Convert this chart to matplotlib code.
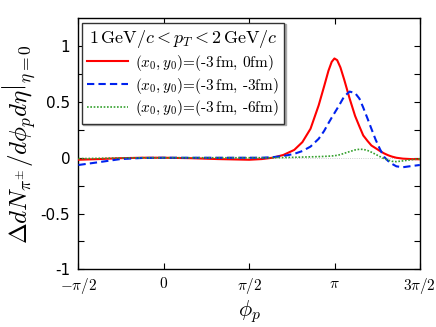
import numpy as np
import matplotlib
matplotlib.use("Agg")
import matplotlib.pyplot as plt

plt.rcParams['mathtext.fontset'] = 'cm'
plt.rcParams['axes.unicode_minus'] = False

PI = np.pi
# phi_p positions (radians)
phi = [-1.571, -1.2, -0.8, -0.4, 0.0, 0.5, 1.0, 1.571, 1.8, 2.0, 2.2, 2.4, 2.55,
       2.7, 2.85, 2.95, 3.03, 3.09, 3.14, 3.19, 3.25, 3.32, 3.42, 3.52, 3.6,
       3.67, 3.75, 3.82, 3.9, 3.98, 4.05, 4.13, 4.2, 4.28, 4.4, 4.55, 4.712]
red = [-0.018, -0.012, -0.004, 0.0, 0.0, -0.004, -0.012, -0.018, -0.012, 0.0,
       0.025, 0.07, 0.14, 0.26, 0.47, 0.64, 0.78, 0.86, 0.89, 0.875, 0.81, 0.70,
       0.53, 0.375, 0.28, 0.20, 0.15, 0.11, 0.085, 0.06, 0.04, 0.022, 0.01, 0.0,
       -0.008, -0.012, -0.014]
blue = [-0.065, -0.04, -0.012, -0.002, 0.0, 0.0, 0.0, 0.0, 0.0, 0.005, 0.015,
        0.035, 0.06, 0.10, 0.17, 0.24, 0.31, 0.36, 0.40, 0.44, 0.49, 0.55,
        0.593, 0.58, 0.53, 0.45, 0.35, 0.26, 0.16, 0.075, 0.01, -0.03, -0.055,
        -0.077, -0.085, -0.075, -0.065]
green = [-0.008, -0.005, -0.002, 0.0, 0.0, 0.0, 0.0, 0.0, 0.0, 0.0, 0.002, 0.004,
         0.006, 0.008, 0.01, 0.012, 0.014, 0.016, 0.018, 0.022, 0.028, 0.04,
         0.055, 0.07, 0.076, 0.075, 0.065, 0.05, 0.03, 0.01, -0.008, -0.022,
         -0.032, -0.035, -0.028, -0.018, -0.01]

labels = [r'$(x_0,y_0)$=(-3$\,$fm, 0fm)',
          r'$(x_0,y_0)$=(-3$\,$fm, -3fm)',
          r'$(x_0,y_0)$=(-3$\,$fm, -6fm)']
xticks = [-PI/2, 0, PI/2, PI, 3*PI/2]
xticklabels = [r'$-\pi/2$', r'$0$', r'$\pi/2$', r'$\pi$', r'$3\pi/2$']
yticks = [-1, -0.5, 0, 0.5, 1]
yticklabels = ['-1', '-0.5', '0', '0.5', '1']

fig = plt.figure(figsize=(4.36, 3.27), dpi=100)
ax = fig.add_axes([0.18, 0.1765, 0.783, 0.7675])

ax.axhline(0, color='#bbbbbb', lw=0.6, ls=':', zorder=1)
ax.plot(phi, red, color='#ff0000', lw=1.5, label=labels[0], zorder=3)
ax.plot(phi, blue, color='#0022ee', lw=1.5, ls=(0, (3.5, 2)), label=labels[1], zorder=3)
ax.plot(phi, green, color='#33a02c', lw=1.2, ls=(0, (1, 1)), label=labels[2], zorder=3)

ax.set_xlim(-PI/2, 3*PI/2)
ax.set_ylim(-1, 1.25)
ax.set_xticks(xticks)
ax.set_xticklabels(xticklabels, fontsize=11)
ax.set_yticks(yticks)
ax.set_yticklabels(yticklabels, fontsize=11)
ax.set_yticks(np.arange(-0.75, 1.25, 0.5), minor=True)
ax.tick_params(which='both', direction='in', top=True, right=True, length=4, width=0.8)
ax.tick_params(axis='x', pad=5)
ax.tick_params(axis='y', pad=6)
for s in ax.spines.values():
    s.set_linewidth(1.0)

ax.set_xlabel(r'$\phi_p$', fontsize=16, labelpad=1)
ax.set_ylabel(r'$\Delta dN_{\pi^{\pm}}/d\phi_p d\eta\left.\right|_{\eta=0}$', fontsize=18, labelpad=2)

leg = ax.legend(loc='upper left', bbox_to_anchor=(0.0094, 0.9825), borderaxespad=0,
                title=r'$1\,\mathrm{GeV}/c < p_T < 2\,\mathrm{GeV}/c$',
                title_fontsize=13, fancybox=False, edgecolor='#333333',
                handlelength=2.7, handletextpad=0.45, labelspacing=0.18,
                borderpad=0.35, prop={'family': 'cmr10', 'size': 11},
                shadow={'ox': 1, 'oy': -1, 'color': '#aaaaaa', 'alpha': 1})
leg.get_frame().set_linewidth(1.0)

fig.savefig('out.png', dpi=100)
